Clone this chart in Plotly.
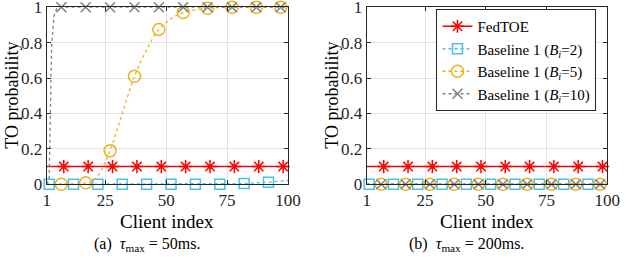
import plotly.graph_objects as go

# ---------------- data ----------------
x_ticks = [1, 25, 50, 75, 100]
y_ticks = [0, 0.2, 0.4, 0.6, 0.8, 1]
y_tick_text = ["0", "0.2", "0.4", "0.6", "0.8", "1"]

series_names = [
    "FedTOE",
    "Baseline 1 (<i>B<sub>i</sub></i>=2)",
    "Baseline 1 (<i>B<sub>i</sub></i>=5)",
    "Baseline 1 (<i>B<sub>i</sub></i>=10)",
]

# marker positions (client index)
fedtoe_marks = [8, 18, 28, 38, 48, 58, 68, 78, 88, 98]
b2_marks = [2, 12, 22, 32, 42, 52, 62, 72, 82, 92]
b5_marks = [7, 17, 27, 37, 47, 57, 67, 77, 87, 97]
b10_marks = [7, 17, 27, 37, 47, 57, 67, 77, 87, 97]

# panel (a): tau_max = 50 ms
a_fedtoe_x = [1, 8, 18, 28, 38, 48, 58, 68, 78, 88, 98, 100]
a_fedtoe_y = [0.1, 0.1, 0.1, 0.1, 0.1, 0.1, 0.1, 0.1, 0.1, 0.1, 0.1, 0.1]
a_b2_x = [1, 2, 12, 22, 32, 42, 52, 62, 72, 76, 82, 92, 100]
a_b2_y = [0, 0, 0, 0, 0, 0, 0, 0, 0, 0.001, 0.004, 0.011, 0.022]
a_b5_x = [1, 7, 17, 20, 23, 27, 32, 37, 42, 47, 52, 57, 62, 67, 72, 77, 87, 97, 100]
a_b5_y = [0, 0, 0.008, 0.02, 0.07, 0.19, 0.40, 0.61, 0.76, 0.875, 0.935, 0.97, 0.985,
          0.995, 0.999, 1, 1, 1, 1]
a_b10_x = [1, 2, 3, 4, 5, 6, 7, 17, 27, 37, 47, 57, 67, 77, 87, 97, 100]
a_b10_y = [0, 0.03, 0.78, 0.95, 0.99, 1, 1, 1, 1, 1, 1, 1, 1, 1, 1, 1, 1]

# panel (b): tau_max = 200 ms
b_fedtoe_x = [1, 8, 18, 28, 38, 48, 58, 68, 78, 88, 98, 100]
b_fedtoe_y = [0.1, 0.1, 0.1, 0.1, 0.1, 0.1, 0.1, 0.1, 0.1, 0.1, 0.1, 0.1]
b_b2_x = [1, 2, 12, 22, 32, 42, 52, 62, 72, 82, 92, 100]
b_b2_y = [0, 0, 0, 0, 0, 0, 0, 0, 0, 0, 0, 0]
b_b5_x = [1, 7, 17, 27, 37, 47, 57, 67, 77, 87, 97, 100]
b_b5_y = [0, 0, 0, 0, 0, 0, 0, 0, 0, 0, 0, 0]
b_b10_x = [1, 7, 17, 27, 37, 47, 57, 67, 77, 87, 97, 100]
b_b10_y = [0, 0, 0, 0, 0, 0, 0, 0, 0, 0, 0, 0]

captions = ["(a)&nbsp;&nbsp;<i>τ</i><sub>max</sub> = 50ms.",
            "(b)&nbsp;&nbsp;<i>τ</i><sub>max</sub> = 200ms."]
x_title = "Client index"
y_title = "TO probability"

# ---------------- styles ----------------
FONT = "Liberation Serif, Times New Roman, serif"
RED = "#FF0000"
BLUE = "#4DBEEE"
ORANGE = "#EDB120"
GRAY = "#808080"
styles = [
    dict(color=RED, dash="solid", symbol="asterisk-open", size=11, width=1.6),
    dict(color=BLUE, dash="dot", symbol="square-open", size=10, width=1.3),
    dict(color=ORANGE, dash="dot", symbol="circle-open", size=12, width=1.3),
    dict(color=GRAY, dash="dot", symbol="x-thin-open", size=10, width=1.3),
]

fig = go.Figure()

panels = [
    ("x", "y", [(a_fedtoe_x, a_fedtoe_y, fedtoe_marks), (a_b2_x, a_b2_y, b2_marks),
                (a_b5_x, a_b5_y, b5_marks), (a_b10_x, a_b10_y, b10_marks)]),
    ("x2", "y2", [(b_fedtoe_x, b_fedtoe_y, fedtoe_marks), (b_b2_x, b_b2_y, b2_marks),
                  (b_b5_x, b_b5_y, b5_marks), (b_b10_x, b_b10_y, b10_marks)]),
]

for xa, ya, series in panels:
    for i, (xs, ys, marks) in enumerate(series):
        st = styles[i]
        shape = "spline" if (xa == "x" and i == 2) else "linear"
        fig.add_trace(go.Scatter(
            x=xs, y=ys, xaxis=xa, yaxis=ya, mode="lines", showlegend=False,
            line=dict(color=st["color"], dash=st["dash"], width=st["width"], shape=shape),
            hoverinfo="skip", cliponaxis=True))
        lookup = dict(zip(xs, ys))
        mx = [m for m in marks if m in lookup]
        my = [lookup[m] for m in mx]
        fig.add_trace(go.Scatter(
            x=mx, y=my, xaxis=xa, yaxis=ya, mode="markers", showlegend=False,
            marker=dict(symbol=st["symbol"], size=st["size"], color=st["color"],
                        line=dict(color=st["color"], width=1.5)),
            cliponaxis=False))

# legend entries
for i, name in enumerate(series_names):
    st = styles[i]
    fig.add_trace(go.Scatter(
        x=[None], y=[None], xaxis="x2", yaxis="y2", mode="lines+markers", name=name,
        line=dict(color=st["color"], dash=st["dash"], width=st["width"]),
        marker=dict(symbol=st["symbol"], size=st["size"], color=st["color"],
                    line=dict(color=st["color"], width=1.5))))

axis_common = dict(
    showline=True, linecolor="#262626", linewidth=1, mirror="allticks",
    ticks="inside", ticklen=4, tickcolor="#262626",
    showgrid=True, gridcolor="#E3E3E3", gridwidth=1, zeroline=False,
    tickfont=dict(family=FONT, size=17, color="#262626"),
    automargin=False, ticklabeloverflow="allow",
)

fig.update_layout(
    width=640, height=275,
    margin=dict(l=0, r=0, t=0, b=0, autoexpand=False),
    paper_bgcolor="white", plot_bgcolor="white",
    font=dict(family=FONT, color="#262626"),
    xaxis=dict(domain=[0.073, 0.450], range=[1, 100], tickvals=x_ticks,
               anchor="y", **axis_common),
    xaxis2=dict(domain=[0.573, 0.949], range=[1, 100], tickvals=x_ticks,
                anchor="y2", **axis_common),
    yaxis=dict(domain=[0.330, 0.9735], range=[0, 1], tickvals=y_ticks,
               ticktext=y_tick_text, anchor="x", **axis_common),
    yaxis2=dict(domain=[0.330, 0.9735], range=[0, 1], tickvals=y_ticks,
                ticktext=y_tick_text, anchor="x2", **axis_common),
    legend=dict(x=0.682, y=1 - 9 / 275, xanchor="left", yanchor="top",
                bgcolor="white", bordercolor="#262626", borderwidth=1,
                font=dict(family=FONT, size=15, color="#000000"),
                itemwidth=30, tracegroupgap=0),
    showlegend=True,
)

annos = []
for cx in [167.3, 487.0]:
    annos.append(dict(text=x_title, x=cx / 640, y=1 - 221 / 275, xref="paper", yref="paper",
                      xanchor="center", yanchor="middle",
                      showarrow=False, font=dict(family=FONT, size=19, color="#000")))
for lx in [12, 332]:
    annos.append(dict(text=y_title, x=lx / 640, y=1 - 95.7 / 275, xref="paper", yref="paper",
                      xanchor="center", yanchor="middle",
                      textangle=-90, showarrow=False, font=dict(family=FONT, size=18, color="#000")))
for cx, cap in [(147, captions[0]), (466, captions[1])]:
    annos.append(dict(text=cap, x=cx / 640, y=1 - 244 / 275, xref="paper", yref="paper",
                      xanchor="center", yanchor="middle",
                      showarrow=False, font=dict(family=FONT, size=16, color="#000")))
fig.update_layout(annotations=annos)

fig.write_html("out.html", post_script="document.body.style.margin='0';",
               config={"displayModeBar": False})
